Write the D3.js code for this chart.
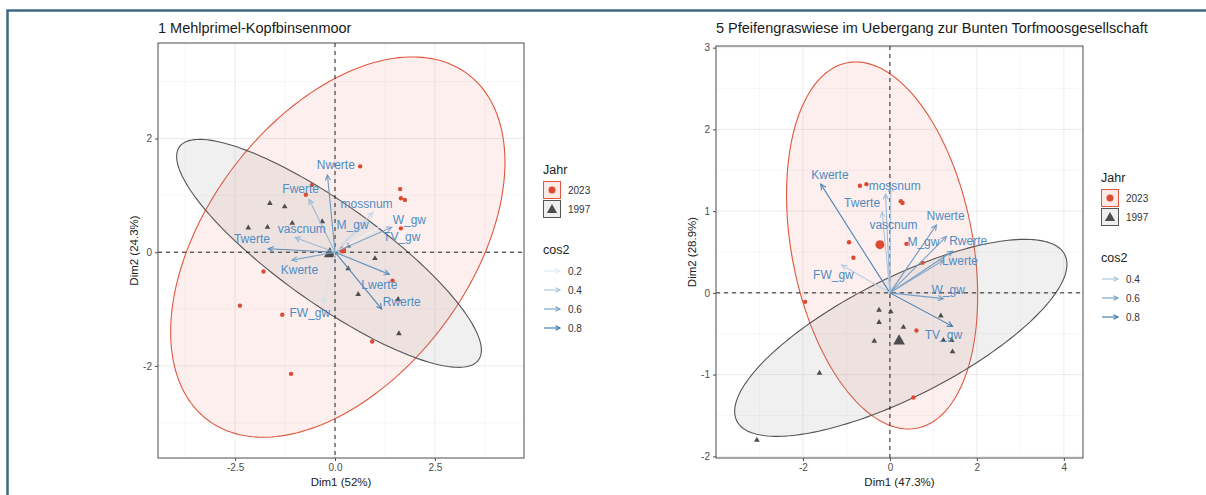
<!DOCTYPE html>
<html>
<head>
<meta charset="utf-8">
<script src="https://cdn.jsdelivr.net/npm/d3@7"></script>
<style>
  body { margin: 0; background: #fff; }
  svg { font-family: "Liberation Sans", Arial, sans-serif; }
</style>
</head>
<body>
<div id="chart"></div>
<script>

// ---- panel 1: 1 Mehlprimel-Kopfbinsenmoor ----
const title1 = "1 Mehlprimel-Kopfbinsenmoor";
const xLab1 = "Dim1 (52%)";
const yLab1 = "Dim2 (24.3%)";
const xTicks1 = [-2.5, 0, 2.5];
const yTicks1 = [-2, 0, 2];
const xMinor1 = [-3.75, -1.25, 1.25, 3.75];
const yMinor1 = [-3, -1, 1, 3];
const pts2023_1 = [[0.63, 1.51], [1.63, 1.11], [1.65, 0.95], [1.75, 0.92], [1.65, 0.42],
  [-0.58, 1.18], [-0.73, 1.01], [-1.79, -0.34], [-2.38, -0.94], [-1.32, -1.10],
  [-1.10, -2.14], [0.93, -1.57], [1.44, -0.50]];
const pts1997_1 = [[-1.63, 0.86], [-1.26, 0.80], [-2.17, 0.43], [-1.69, 0.44], [-1.07, 0.51],
  [-0.32, 0.54], [0.33, 0.11], [1.00, -0.11], [0.33, -0.29], [0.58, -0.74],
  [1.58, -0.83], [1.60, -1.43]];
const mean2023_1 = [0.19, 0.04];
const mean1997_1 = [-0.13, -0.03];
// ellipse: centre x, centre y, semi axis a, semi axis b, angle (deg)
const ell2023_1 = [0.07, 0.09, 4.62, 2.71, 31.6];
const ell1997_1 = [-0.15, -0.02, 4.20, 0.96, -25.5];
const vars1 = ["Nwerte", "Fwerte", "mossnum", "M_gw", "W_gw", "TV_gw", "Twerte", "vascnum", "Kwerte", "FW_gw", "Lwerte", "Rwerte"];
const varX1 = [-0.19, -0.65, 0.95, 0.80, 1.45, 1.42, -1.67, -1.00, -1.08, -0.29, 1.36, 1.17];
const varY1 = [1.36, 0.93, 0.70, 0.52, 0.58, 0.44, 0.06, 0.26, -0.14, -0.90, -0.39, -1.00];
const cos2_1 = [0.62, 0.45, 0.30, 0.28, 0.15, 0.55, 0.70, 0.45, 0.55, 0.25, 0.65, 0.72];
const labX1 = [0.02, -0.86, 0.79, 0.44, 1.86, 1.67, -2.08, -0.83, -0.89, -0.63, 1.11, 1.67];
const labY1 = [1.54, 1.11, 0.85, 0.48, 0.57, 0.26, 0.23, 0.40, -0.32, -1.07, -0.58, -0.88];
const cos2Keys1 = [0.2, 0.4, 0.6, 0.8];

// ---- panel 2: 5 Pfeifengraswiese ----
const title2 = "5 Pfeifengraswiese im Uebergang zur Bunten Torfmoosgesellschaft";
const xLab2 = "Dim1 (47.3%)";
const yLab2 = "Dim2 (28.9%)";
const xTicks2 = [-2, 0, 2, 4];
const yTicks2 = [-2, -1, 0, 1, 2, 3];
const xMinor2 = [-3, -1, 1, 3];
const yMinor2 = [-1.5, -0.5, 0.5, 1.5, 2.5];
const pts2023_2 = [[-0.69, 1.31], [-0.54, 1.33], [0.25, 1.12], [0.29, 1.10], [-0.94, 0.62],
  [0.38, 0.60], [-0.84, 0.43], [0.75, 0.37], [-1.95, -0.11], [0.61, -0.46], [0.54, -1.28]];
const pts1997_2 = [[-0.25, -0.21], [0.02, -0.23], [-0.25, -0.36], [0.31, -0.42], [-0.36, -0.59],
  [1.17, -0.28], [1.23, -0.58], [1.42, -0.58], [1.44, -0.72], [-1.62, -0.98], [-3.06, -1.80]];
const mean2023_2 = [-0.23, 0.59];
const mean1997_2 = [0.21, -0.59];
const ell2023_2 = [-0.18, 0.58, 2.51, 1.89, -47.2];
const ell1997_2 = [0.25, -0.55, 3.93, 0.78, 13.8];
const vars2 = ["Kwerte", "mossnum", "Twerte", "vascnum", "Nwerte", "M_gw", "Rwerte", "Lwerte", "FW_gw", "W_gw", "TV_gw"];
const varX2 = [-1.59, 0.02, -0.10, -0.18, 1.07, 1.30, 1.44, 1.23, -1.11, 1.23, 1.44];
const varY2 = [1.33, 1.30, 1.21, 0.99, 0.83, 0.69, 0.51, 0.40, 0.34, -0.07, -0.41];
const cos2_2 = [0.72, 0.40, 0.45, 0.38, 0.62, 0.58, 0.62, 0.55, 0.35, 0.58, 0.78];
const labX2 = [-1.38, 0.11, -0.64, 0.08, 1.28, 0.77, 1.80, 1.61, -1.30, 1.34, 1.23];
const labY2 = [1.44, 1.31, 1.10, 0.83, 0.94, 0.62, 0.64, 0.39, 0.22, 0.03, -0.52];
const cos2Keys2 = [0.4, 0.6, 0.8];

const years = ["2023", "1997"];

const width = 1206, height = 495;
const red = "#dc4a32", grey = "#4d4d4d", labelBlue = "#4f8cc3";

// colour gradient for cos2
const cosColor = d3.scaleLinear()
    .domain([0.15, 0.85])
    .range(["#eef4fa", "#2c6ca6"]);

const svg = d3.select("#chart")
    .append("svg")
    .attr("width", width)
    .attr("height", height);

// frame lines of the original figure
svg.append("path")
    .attr("d", `M7.5,${height}V10.5H${width}`)
    .attr("fill", "none")
    .attr("stroke", "#3e6a85")
    .attr("stroke-width", 2.5);

const panels = [
  { id: 1, title: title1, xLab: xLab1, yLab: yLab1, xTicks: xTicks1, yTicks: yTicks1,
    xMinor: xMinor1, yMinor: yMinor1, p2023: pts2023_1, p1997: pts1997_1,
    m2023: mean2023_1, m1997: mean1997_1, e2023: ell2023_1, e1997: ell1997_1,
    vars: vars1, vx: varX1, vy: varY1, cos2: cos2_1, lx: labX1, ly: labY1, keys: cos2Keys1,
    xDomain: [-4.43, 4.73], yDomain: [-3.62, 3.68], left: 158, right: 524, top: 43, bottom: 458,
    xFmt: d => d.toFixed(1), legX: 543, legY: 170 },
  { id: 2, title: title2, xLab: xLab2, yLab: yLab2, xTicks: xTicks2, yTicks: yTicks2,
    xMinor: xMinor2, yMinor: yMinor2, p2023: pts2023_2, p1997: pts1997_2,
    m2023: mean2023_2, m1997: mean1997_2, e2023: ell2023_2, e1997: ell1997_2,
    vars: vars2, vx: varX2, vy: varY2, cos2: cos2_2, lx: labX2, ly: labY2, keys: cos2Keys2,
    xDomain: [-4.0, 4.44], yDomain: [-2.02, 3.02], left: 716, right: 1083, top: 46, bottom: 458,
    xFmt: d => String(d), legX: 1101, legY: 178 }
];

// points on an ellipse given as [cx, cy, a, b, angle]
function ellipsePoints(e) {
  const [cx, cy, a, b, ang] = e;
  const th = ang * Math.PI / 180;
  return d3.range(0, 201).map(i => {
    const t = i / 200 * 2 * Math.PI;
    return [cx + a * Math.cos(t) * Math.cos(th) - b * Math.sin(t) * Math.sin(th),
            cy + a * Math.cos(t) * Math.sin(th) + b * Math.sin(t) * Math.cos(th)];
  });
}

// open arrow head at (x1,y1) coming from (x0,y0), pixel space
function arrowHead(x0, y0, x1, y1, len) {
  const ang = Math.atan2(y1 - y0, x1 - x0), w = 0.45;
  return `M${x1 - len * Math.cos(ang - w)},${y1 - len * Math.sin(ang - w)}L${x1},${y1}` +
         `L${x1 - len * Math.cos(ang + w)},${y1 - len * Math.sin(ang + w)}`;
}

panels.forEach(p => {
  const g = svg.append("g");

  let xScale = d3.scaleLinear().domain(p.xDomain).range([p.left, p.right]);
  let yScale = d3.scaleLinear().domain(p.yDomain).range([p.bottom, p.top]);

  // title
  g.append("text")
      .attr("x", p.left)
      .attr("y", 33)
      .attr("font-size", "14.5px")
      .attr("fill", "#1a1a1a")
      .text(p.title);

  // panel background + grid
  g.append("rect")
      .attr("x", p.left).attr("y", p.top)
      .attr("width", p.right - p.left).attr("height", p.bottom - p.top)
      .attr("fill", "#fff");

  g.selectAll(".minx").data(p.xMinor).enter().append("line")
      .attr("x1", d => xScale(d)).attr("x2", d => xScale(d))
      .attr("y1", p.top).attr("y2", p.bottom)
      .attr("stroke", "#f2f2f2").attr("stroke-width", 0.6);
  g.selectAll(".miny").data(p.yMinor).enter().append("line")
      .attr("y1", d => yScale(d)).attr("y2", d => yScale(d))
      .attr("x1", p.left).attr("x2", p.right)
      .attr("stroke", "#f2f2f2").attr("stroke-width", 0.6);
  g.selectAll(".majx").data(p.xTicks).enter().append("line")
      .attr("x1", d => xScale(d)).attr("x2", d => xScale(d))
      .attr("y1", p.top).attr("y2", p.bottom)
      .attr("stroke", "#ebebeb").attr("stroke-width", 1);
  g.selectAll(".majy").data(p.yTicks).enter().append("line")
      .attr("y1", d => yScale(d)).attr("y2", d => yScale(d))
      .attr("x1", p.left).attr("x2", p.right)
      .attr("stroke", "#ebebeb").attr("stroke-width", 1);

  // clip to panel
  g.append("clipPath").attr("id", "clip" + p.id)
    .append("rect")
      .attr("x", p.left).attr("y", p.top)
      .attr("width", p.right - p.left).attr("height", p.bottom - p.top);
  const inner = g.append("g").attr("clip-path", `url(#clip${p.id})`);

  const line = d3.line().x(d => xScale(d[0])).y(d => yScale(d[1]));

  // confidence ellipses
  inner.append("path")
      .attr("d", line(ellipsePoints(p.e2023)) + "Z")
      .attr("fill", "#e64b35").attr("fill-opacity", 0.09)
      .attr("stroke", "#e0573f").attr("stroke-width", 1.1);
  inner.append("path")
      .attr("d", line(ellipsePoints(p.e1997)) + "Z")
      .attr("fill", "#9a9a9a").attr("fill-opacity", 0.15)
      .attr("stroke", "#555").attr("stroke-width", 1.1);

  // zero lines
  inner.append("line")
      .attr("x1", p.left).attr("x2", p.right)
      .attr("y1", yScale(0)).attr("y2", yScale(0))
      .attr("stroke", "#222").attr("stroke-width", 1).attr("stroke-dasharray", "4,4");
  inner.append("line")
      .attr("y1", p.top).attr("y2", p.bottom)
      .attr("x1", xScale(0)).attr("x2", xScale(0))
      .attr("stroke", "#222").attr("stroke-width", 1).attr("stroke-dasharray", "4,4");

  // individuals
  inner.selectAll(".p2023").data(p.p2023).enter().append("circle")
      .attr("cx", d => xScale(d[0])).attr("cy", d => yScale(d[1]))
      .attr("r", 2.2).attr("fill", red);
  inner.selectAll(".p1997").data(p.p1997).enter().append("path")
      .attr("d", d3.symbol(d3.symbolTriangle, 14))
      .attr("transform", d => `translate(${xScale(d[0])},${yScale(d[1])})`)
      .attr("fill", grey);

  // group means
  inner.append("circle")
      .attr("cx", xScale(p.m2023[0])).attr("cy", yScale(p.m2023[1]))
      .attr("r", p.id === 2 ? 4.5 : 3.5).attr("fill", red);
  inner.append("path")
      .attr("d", d3.symbol(d3.symbolTriangle, 60))
      .attr("transform", `translate(${xScale(p.m1997[0])},${yScale(p.m1997[1])})`)
      .attr("fill", grey);

  // variable arrows
  const x0 = xScale(0), y0 = yScale(0);
  p.vars.forEach((v, i) => {
    const x1 = xScale(p.vx[i]), y1 = yScale(p.vy[i]);
    const col = cosColor(p.cos2[i]);
    inner.append("line")
        .attr("x1", x0).attr("y1", y0).attr("x2", x1).attr("y2", y1)
        .attr("stroke", col).attr("stroke-width", 1.1);
    inner.append("path")
        .attr("d", arrowHead(x0, y0, x1, y1, 6))
        .attr("fill", "none").attr("stroke", col).attr("stroke-width", 1.1);
  });
  inner.selectAll(".lab").data(p.vars).enter().append("text")
      .attr("x", (d, i) => xScale(p.lx[i]))
      .attr("y", (d, i) => yScale(p.ly[i]))
      .attr("text-anchor", "middle")
      .attr("dominant-baseline", "central")
      .attr("font-size", "12px")
      .attr("fill", labelBlue)
      .text(d => d);

  // panel border
  g.append("rect")
      .attr("x", p.left).attr("y", p.top)
      .attr("width", p.right - p.left).attr("height", p.bottom - p.top)
      .attr("fill", "none").attr("stroke", "#4d4d4d").attr("stroke-width", 1);

  // axes
  const xAxis = g.append("g")
      .attr("transform", `translate(0,${p.bottom})`)
      .call(d3.axisBottom(xScale).tickValues(p.xTicks).tickSize(3).tickFormat(p.xFmt));
  const yAxis = g.append("g")
      .attr("transform", `translate(${p.left},0)`)
      .call(d3.axisLeft(yScale).tickValues(p.yTicks).tickSize(3).tickFormat(d => String(d)));
  [xAxis, yAxis].forEach(a => {
    a.select(".domain").remove();
    a.selectAll("line").attr("stroke", "#4d4d4d");
    a.selectAll("text").attr("fill", "#4d4d4d").attr("font-size", "10px")
        .attr("font-family", "Liberation Sans, Arial, sans-serif");
  });

  // axis titles
  g.append("text")
      .attr("x", (p.left + p.right) / 2).attr("y", 486)
      .attr("text-anchor", "middle").attr("font-size", "11.5px").attr("fill", "#222")
      .text(p.xLab);
  g.append("text")
      .attr("transform", `translate(${p.left - 20},${(p.top + p.bottom) / 2}) rotate(-90)`)
      .attr("text-anchor", "middle").attr("font-size", "11.5px").attr("fill", "#222")
      .text(p.yLab);

  // legend: Jahr
  const leg = g.append("g").attr("transform", `translate(${p.legX},${p.legY})`);
  leg.append("text").attr("x", 0).attr("y", 4).attr("font-size", "12.5px").attr("fill", "#222").text("Jahr");
  years.forEach((yr, i) => {
    const ky = 11 + i * 19;
    leg.append("rect")
        .attr("x", 0.5).attr("y", ky + 0.5).attr("width", 17).attr("height", 17)
        .attr("fill", i === 0 ? "#fce8e4" : "#efefef")
        .attr("stroke", i === 0 ? "#e0573f" : "#555").attr("stroke-width", 1);
    if (i === 0) {
      leg.append("circle").attr("cx", 9).attr("cy", ky + 9).attr("r", 3.5).attr("fill", red);
    } else {
      leg.append("path").attr("d", d3.symbol(d3.symbolTriangle, 45))
          .attr("transform", `translate(9,${ky + 10})`).attr("fill", grey);
    }
    leg.append("text").attr("x", 25).attr("y", ky + 9).attr("dominant-baseline", "central")
        .attr("font-size", "10px").attr("fill", "#333").text(yr);
  });

  // legend: cos2
  leg.append("text").attr("x", 0).attr("y", 84).attr("font-size", "12.5px").attr("fill", "#222").text("cos2");
  p.keys.forEach((k, i) => {
    const ky = 101 + i * 19;
    const col = cosColor(k);
    leg.append("line").attr("x1", 1).attr("x2", 17).attr("y1", ky).attr("y2", ky)
        .attr("stroke", col).attr("stroke-width", 1.1);
    leg.append("path").attr("d", arrowHead(1, ky, 17, ky, 5))
        .attr("fill", "none").attr("stroke", col).attr("stroke-width", 1.1);
    leg.append("text").attr("x", 25).attr("y", ky).attr("dominant-baseline", "central")
        .attr("font-size", "10px").attr("fill", "#333").text(k.toFixed(1));
  });
});

</script>
</body>
</html>
